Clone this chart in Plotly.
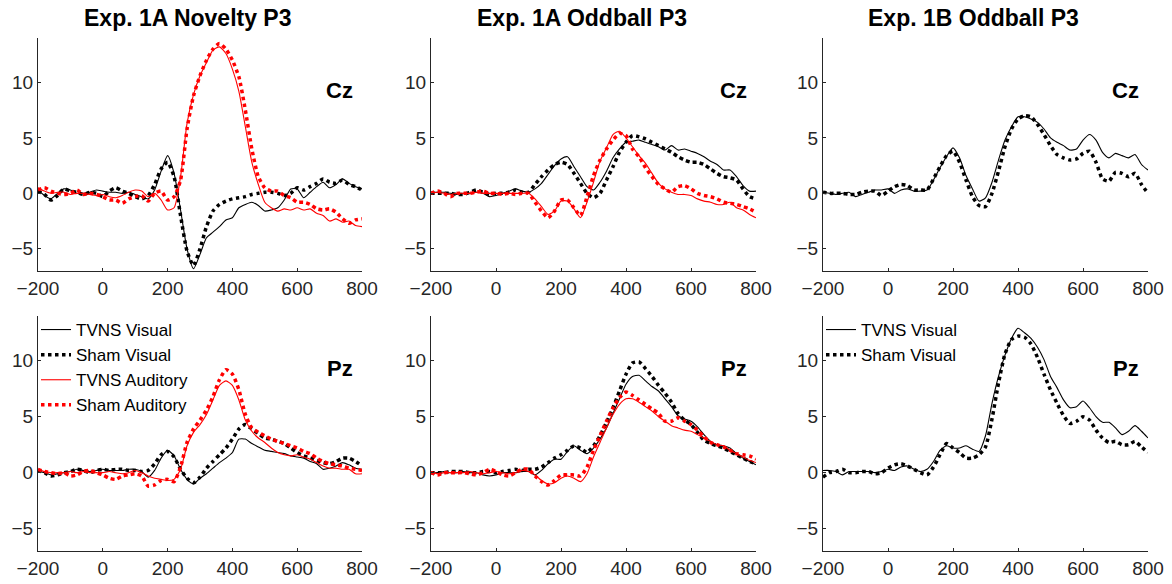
import plotly.graph_objects as go

# time axis (ms)
time_ms = [-200, -180, -160, -140, -120, -100, -80, -60, -40, -20,
           0, 20, 40, 60, 80, 100, 120, 140, 160, 180,
           200, 220, 240, 260, 280, 300, 320, 340, 360, 380,
           400, 420, 440, 460, 480, 500, 520, 540, 560, 580,
           600, 620, 640, 660, 680, 700, 720, 740, 760, 780,
           800]

# ---- Exp. 1A Novelty P3, Cz ----
nov_cz_tvns_vis = [0.3, -0.2, -0.5, 0.0, 0.4, 0.3, 0.0, 0.0, 0.1, 0.3,
                   0.2, 0.1, 0.1, 0.0, 0.1, -0.1, -0.3, -0.5, 0.3, 2.0,
                   3.4, 1.8, -1.5, -5.0, -6.8, -5.5, -4.0, -3.5, -3.0, -2.4,
                   -2.2, -1.3, -1.0, -0.8, -1.1, -1.6, -1.5, -1.3, -0.6, 0.4,
                   0.4, -0.4, 0.1, 0.6, 1.0, 0.5, 0.8, 1.3, 0.9, 0.6,
                   0.4]
nov_cz_sham_vis = [0.2, -0.1, -0.6, -0.2, 0.4, 0.2, 0.1, -0.1, 0.1, 0.0,
                   -0.3, 0.2, 0.5, 0.2, 0.0, -0.3, -0.5, -0.2, 0.8, 2.2,
                   2.8, 1.5, -2.0, -5.2, -6.5, -5.0, -3.0, -1.6, -1.0, -0.7,
                   -0.5, -0.4, -0.3, -0.1, 0.0, 0.1, 0.1, 0.0, -0.2, 0.0,
                   0.5, 0.3, 0.6, 0.9, 1.3, 1.0, 0.9, 1.2, 0.8, 0.6,
                   0.3]
nov_cz_tvns_aud = [0.5, 0.2, 0.0, 0.1, 0.1, -0.1, 0.0, 0.0, -0.1, -0.2,
                   -0.1, -0.3, -0.4, -0.2, 0.1, 0.3, 0.2, -0.3, 0.0, -0.6,
                   -1.5, -1.3, 1.5, 6.3, 8.9, 10.6, 11.8, 12.9, 13.2, 12.6,
                   11.2, 9.2, 6.0, 2.8, 0.8, -0.8, -1.3, -1.6, -1.4, -1.5,
                   -1.3, -1.5, -1.4, -1.8, -2.0, -2.5, -2.3, -2.6, -2.5, -2.9,
                   -3.0]
nov_cz_sham_aud = [0.3, 0.5, 0.2, 0.0, -0.1, 0.0, 0.3, -0.1, 0.0, -0.1,
                   -0.3, -0.6, -0.6, -0.9, -0.5, -0.3, -0.2, -0.7, 0.0, 0.2,
                   -0.6, -0.3, 1.2, 5.8, 8.8, 10.6, 12.0, 13.0, 13.5, 13.0,
                   12.0, 10.5, 7.5, 4.0, 1.5, 0.5, 0.2, 0.2, -0.2, -0.4,
                   -0.8, -0.8, -1.0, -1.4, -1.5, -1.4, -1.7, -2.3, -2.7, -2.4,
                   -2.3]

# ---- Exp. 1A Oddball P3, Cz ----
odd_cz_tvns_vis = [0.1, 0.1, 0.1, 0.0, -0.1, 0.0, 0.0, 0.1, 0.0, -0.3,
                   -0.2, 0.0, 0.2, 0.4, 0.2, 0.1, 0.4, 0.9, 1.7, 2.5,
                   3.1, 3.3, 2.4, 1.5, 0.6, 0.3, 1.0, 2.0, 3.2, 4.0,
                   4.6, 4.7, 4.8, 4.6, 4.4, 4.2, 3.9, 4.3, 3.9, 4.0,
                   3.8, 3.6, 3.3, 2.9, 2.6, 2.1, 2.1, 1.5, 0.7, 0.2,
                   0.2]
odd_cz_sham_vis = [0.0, 0.0, 0.0, 0.0, -0.1, -0.1, 0.1, 0.3, 0.1, -0.1,
                   0.0, 0.0, 0.1, 0.3, 0.1, 0.1, 0.8, 1.5, 2.1, 2.6,
                   2.8, 2.6, 1.8, 0.9, 0.0, -0.4, 0.0, 1.2, 2.4, 3.7,
                   4.6, 5.2, 5.1, 4.9, 4.6, 4.3, 4.0, 3.7, 3.3, 3.0,
                   2.8, 2.8, 2.6, 2.2, 1.8, 1.5, 1.4, 1.2, 0.4, -0.3,
                   -0.5]
odd_cz_tvns_aud = [0.0, 0.1, 0.0, -0.1, 0.0, 0.0, 0.0, 0.1, 0.0, 0.0,
                   0.0, 0.0, 0.0, 0.0, 0.0, 0.0, -0.5, -1.2, -1.9, -1.6,
                   -0.7, -0.7, -1.4, -2.2, -0.8, 1.0, 2.9, 4.1, 5.3, 5.6,
                   5.0, 4.2, 3.4, 2.7, 1.8, 0.9, 0.4, 0.1, -0.1, -0.1,
                   -0.2, -0.5, -0.7, -0.8, -1.0, -1.0, -0.8, -1.3, -1.5, -1.9,
                   -2.2]
odd_cz_sham_aud = [0.0, 0.2, 0.0, -0.3, 0.0, 0.0, 0.0, 0.1, 0.2, 0.0,
                   0.0, -0.1, 0.0, -0.1, 0.0, 0.0, -0.8, -1.6, -2.2, -1.6,
                   -0.6, -0.6, -1.3, -2.0, -0.3, 1.6, 3.0, 4.0, 4.8, 5.4,
                   5.2, 4.0, 3.3, 2.3, 1.5, 0.8, 0.4, 0.1, 0.6, 0.7,
                   0.4, 0.0, -0.2, -0.3, -0.5, -0.8, -0.9, -1.0, -1.2, -1.4,
                   -1.7]

# ---- Exp. 1B Oddball P3, Cz ----
b_cz_tvns_vis = [0.1, 0.0, -0.1, 0.0, 0.1, -0.3, -0.1, 0.1, 0.3, 0.3,
                 0.4, 0.0, 0.3, 0.4, 0.2, 0.2, 0.3, 1.2, 2.3, 3.3,
                 4.1, 3.2, 1.6, 0.4, -0.7, -0.4, 1.0, 3.0, 4.8, 6.0,
                 6.9, 6.9, 6.7, 6.4, 5.8, 5.0, 4.6, 4.3, 3.9, 4.0,
                 4.8, 5.3, 4.8, 3.7, 3.2, 3.6, 3.4, 3.2, 3.5, 2.6,
                 2.1]
b_cz_sham_vis = [0.1, 0.0, 0.0, 0.0, -0.1, -0.1, 0.1, 0.2, 0.2, -0.2,
                 0.2, 0.6, 0.8, 0.7, 0.3, 0.3, 0.3, 1.3, 2.4, 3.4,
                 3.8, 2.8, 1.2, -0.3, -1.1, -1.2, 0.0, 2.0, 4.2, 5.8,
                 6.7, 7.0, 6.9, 6.2, 5.3, 4.3, 3.5, 3.2, 3.0, 3.1,
                 3.6, 3.8, 2.8, 1.3, 1.1, 1.9, 1.8, 1.5, 1.8, 0.8,
                 0.0]

# ---- Exp. 1A Novelty P3, Pz ----
nov_pz_tvns_vis = [0.1, 0.0, -0.2, -0.1, 0.0, 0.1, 0.3, 0.2, 0.1, 0.2,
                   0.3, 0.2, 0.2, 0.2, 0.3, 0.3, 0.1, -0.4, 0.2, 1.3,
                   2.0, 1.5, 0.3, -0.6, -1.0, -0.5, -0.1, 0.4, 0.9, 1.3,
                   1.8, 3.0, 3.0, 2.6, 2.3, 2.0, 1.9, 1.8, 1.7, 1.5,
                   1.4, 1.3, 1.0, 0.8, 0.3, 0.4, 0.6, 0.9, 0.7, 0.4,
                   0.3]
nov_pz_sham_vis = [0.2, 0.0, -0.3, -0.2, 0.0, 0.1, 0.3, 0.2, 0.0, 0.2,
                   0.3, 0.2, 0.3, 0.3, 0.2, 0.2, 0.1, 0.2, 0.8, 1.6,
                   1.9, 1.4, 0.3, -0.5, -0.9, -0.4, 0.4, 1.0, 1.6, 2.2,
                   3.0, 3.9, 4.3, 3.9, 3.5, 3.1, 3.0, 2.8, 2.6, 2.2,
                   1.8, 1.5, 1.3, 1.1, 0.9, 0.8, 1.0, 1.3, 1.3, 1.0,
                   0.6]
nov_pz_tvns_aud = [0.3, 0.1, 0.0, 0.0, 0.0, 0.1, 0.0, 0.1, 0.0, 0.0,
                   0.0, 0.1, 0.0, -0.1, 0.0, 0.2, 0.0, -0.3, -0.5, -0.6,
                   -0.7, -0.6, 0.3, 2.4, 3.6, 4.3, 5.2, 6.5, 7.8, 8.2,
                   7.8, 6.5, 4.7, 3.7, 3.1, 2.7, 2.2, 1.8, 1.6, 1.5,
                   1.6, 1.4, 1.2, 0.9, 0.6, 0.4, 0.4, 0.3, 0.3, -0.1,
                   -0.1]
nov_pz_sham_aud = [0.3, 0.1, 0.0, -0.1, 0.0, -0.3, -0.2, 0.1, 0.2, 0.0,
                   -0.2, -0.5, -0.6, -0.3, -0.2, -0.1, -0.3, -1.2, -1.1, -0.7,
                   -0.6, -0.8, 0.5, 2.7, 3.9, 4.7, 5.6, 6.8, 8.3, 9.2,
                   8.8, 7.4, 5.2, 4.0, 3.6, 3.3, 3.0, 2.8, 2.6, 2.4,
                   2.2, 1.9, 1.7, 1.3, 1.0, 0.8, 0.7, 0.6, 0.4, 0.3,
                   0.2]

# ---- Exp. 1A Oddball P3, Pz ----
odd_pz_tvns_vis = [0.0, 0.0, 0.1, 0.0, 0.0, 0.1, 0.0, 0.0, -0.2, -0.3,
                   -0.2, 0.0, 0.0, 0.0, 0.1, 0.1, -0.2, 0.2, 0.8, 1.2,
                   1.2, 1.9, 2.4, 2.0, 1.7, 2.2, 3.0, 4.0, 5.3, 6.6,
                   7.9, 8.6, 8.7, 8.2, 7.7, 7.3, 6.6, 5.9, 5.1, 4.8,
                   4.6, 4.1, 3.4, 2.8, 2.5, 2.4, 2.2, 1.7, 1.3, 1.0,
                   0.7]
odd_pz_sham_vis = [0.0, 0.0, 0.0, 0.1, 0.1, 0.1, 0.0, 0.0, 0.1, 0.1,
                   0.0, 0.1, 0.2, 0.3, 0.2, 0.3, 0.3, 0.5, 0.9, 1.3,
                   1.6, 2.0, 2.4, 2.2, 1.8, 2.4, 3.3, 4.5, 5.8, 7.3,
                   8.8, 9.8, 9.9, 9.3, 8.6, 7.8, 7.1, 6.3, 5.3, 4.7,
                   4.3, 3.6, 2.9, 2.6, 2.4, 2.2, 1.9, 1.6, 1.3, 1.0,
                   0.8]
odd_pz_tvns_aud = [0.1, -0.1, 0.0, 0.0, 0.0, 0.0, 0.1, 0.0, -0.1, 0.0,
                   0.1, 0.0, -0.1, 0.0, 0.2, 0.1, -0.2, -0.7, -1.0, -0.9,
                   -0.5, -0.3, -0.5, -0.8, -0.1, 1.4, 2.7, 4.0, 5.2, 6.1,
                   6.6, 6.6, 6.3, 5.9, 5.5, 5.0, 4.6, 4.2, 4.0, 3.8,
                   3.7, 3.4, 3.1, 2.8, 2.5, 2.4, 2.0, 1.7, 1.4, 1.1,
                   0.9]
odd_pz_sham_aud = [0.0, -0.2, 0.0, 0.0, 0.0, 0.0, -0.1, -0.2, 0.0, 0.3,
                   0.1, -0.2, -0.3, 0.0, 0.3, 0.3, -0.3, -0.8, -1.1, -0.7,
                   -0.2, -0.2, -0.2, -0.3, 0.5, 2.0, 3.3, 4.6, 5.8, 6.7,
                   7.2, 6.9, 6.5, 6.1, 5.7, 5.3, 4.6, 4.6, 4.9, 4.6,
                   4.3, 3.8, 3.2, 2.7, 2.5, 2.3, 2.0, 1.7, 1.6, 1.5,
                   1.2]

# ---- Exp. 1B Oddball P3, Pz ----
b_pz_tvns_vis = [0.2, 0.2, 0.1, -0.2, 0.1, 0.1, 0.1, 0.1, 0.0, 0.1,
                 0.3, 0.2, 0.5, 0.6, 0.3, 0.1, 0.3, 1.0, 2.0, 2.4,
                 2.2, 2.2, 2.4, 2.1, 1.9, 3.3, 6.2, 8.6, 10.5, 12.0,
                 12.9, 12.5, 12.0, 11.2, 10.1, 8.6, 7.6, 6.5, 5.8, 5.9,
                 6.4, 5.8, 5.0, 4.5, 4.5, 4.0, 3.4, 3.7, 4.2, 3.7,
                 3.1]
b_pz_sham_vis = [-0.4, 0.0, 0.1, 0.3, 0.0, 0.0, 0.1, 0.1, -0.1, 0.0,
                 0.4, 0.7, 0.8, 0.6, 0.3, 0.0, -0.2, 0.5, 1.6, 2.6,
                 2.2, 1.8, 1.3, 1.3, 1.6, 2.3, 4.8, 8.0, 10.6, 11.9,
                 12.2, 12.1, 11.5, 10.3, 8.8, 7.4, 6.2, 5.1, 4.4, 4.6,
                 5.0, 4.7, 3.8, 3.1, 2.7, 2.8, 2.5, 2.5, 2.8, 2.3,
                 1.8]

titles = ["Exp. 1A Novelty P3", "Exp. 1A Oddball P3", "Exp. 1B Oddball P3"]
electrodes = ["Cz", "Pz"]
series_names = ["TVNS Visual", "Sham Visual", "TVNS Auditory", "Sham Auditory"]
x_ticks = [-200, 0, 200, 400, 600, 800]
y_ticks = [-5, 0, 5, 10]

W, H = 1172, 584
# panel pixel boxes (left, right) and (top, bottom)
col_px = [(38, 362), (431, 756), (823, 1148)]
row_px = [(38, 271), (316, 551)]

panels = [
    (0, 0, [(0, nov_cz_tvns_vis), (1, nov_cz_sham_vis), (2, nov_cz_tvns_aud), (3, nov_cz_sham_aud)]),
    (0, 1, [(0, odd_cz_tvns_vis), (1, odd_cz_sham_vis), (2, odd_cz_tvns_aud), (3, odd_cz_sham_aud)]),
    (0, 2, [(0, b_cz_tvns_vis), (1, b_cz_sham_vis)]),
    (1, 0, [(0, nov_pz_tvns_vis), (1, nov_pz_sham_vis), (2, nov_pz_tvns_aud), (3, nov_pz_sham_aud)]),
    (1, 1, [(0, odd_pz_tvns_vis), (1, odd_pz_sham_vis), (2, odd_pz_tvns_aud), (3, odd_pz_sham_aud)]),
    (1, 2, [(0, b_pz_tvns_vis), (1, b_pz_sham_vis)]),
]

styles = [
    dict(color="#000000", width=1.1, dash="solid"),
    dict(color="#000000", width=3.5, dash="dot"),
    dict(color="#ff0000", width=1.1, dash="solid"),
    dict(color="#ff0000", width=3.5, dash="dot"),
]

AX_COL = "#262626"
FONT = "Liberation Sans, Arial, sans-serif"

fig = go.Figure()
layout = dict(
    width=W, height=H,
    margin=dict(l=0, r=0, t=0, b=0, pad=0, autoexpand=False),
    paper_bgcolor="white", plot_bgcolor="white",
    showlegend=True,
    annotations=[],
)

for k, (r, c, series) in enumerate(panels):
    idx = k + 1
    xa = "xaxis" if idx == 1 else f"xaxis{idx}"
    ya = "yaxis" if idx == 1 else f"yaxis{idx}"
    xref = "x" if idx == 1 else f"x{idx}"
    yref = "y" if idx == 1 else f"y{idx}"
    l, rr = col_px[c]
    t, b = row_px[r]
    layout[xa] = dict(
        domain=[l / W, rr / W], anchor=yref, range=[-200, 800], automargin=False,
        tickvals=x_ticks, ticks="inside", ticklen=3, tickwidth=1, tickcolor=AX_COL,
        showline=True, linecolor=AX_COL, linewidth=1, showgrid=False, zeroline=False,
        tickfont=dict(family=FONT, size=19, color=AX_COL),
    )
    layout[ya] = dict(
        domain=[1 - b / H, 1 - t / H], anchor=xref, range=[-7, 14], automargin=False,
        tickvals=y_ticks, ticks="inside", ticklen=3, tickwidth=1, tickcolor=AX_COL,
        showline=True, linecolor=AX_COL, linewidth=1, showgrid=False, zeroline=False,
        tickfont=dict(family=FONT, size=19, color=AX_COL),
    )
    legend_name = None
    if (r, c) == (1, 0):
        legend_name = "legend"
    elif (r, c) == (1, 2):
        legend_name = "legend2"
    for si, vals in series:
        st = styles[si]
        fig.add_trace(go.Scatter(
            x=time_ms, y=vals, mode="lines",
            name=series_names[si],
            line=dict(color=st["color"], width=st["width"], dash=st["dash"],
                      shape="spline", smoothing=0.6),
            xaxis=xref, yaxis=yref,
            showlegend=legend_name is not None,
            legend=legend_name if legend_name else "legend",
        ))
    # electrode label
    layout["annotations"].append(dict(
        text=f"<b>{electrodes[r]}</b>", xref="paper", yref="paper",
        x=(rr - 7) / W, y=1 - (t + 52) / H, xanchor="right", yanchor="middle",
        showarrow=False, font=dict(family=FONT, size=22, color="#000000"),
    ))
    if r == 0:
        layout["annotations"].append(dict(
            text=f"<b>{titles[c]}</b>", xref="paper", yref="paper",
            x=((l + rr) / 2 - 12) / W, y=1 - 18 / H, xanchor="center", yanchor="middle",
            showarrow=False, font=dict(family=FONT, size=23, color="#000000"),
        ))

legend_common = dict(
    bgcolor="rgba(0,0,0,0)", borderwidth=0,
    font=dict(family=FONT, size=17, color="#000000"),
    xanchor="left", yanchor="top", tracegroupgap=0,
    itemwidth=30,
)
layout["legend"] = dict(x=36 / W, y=1 - 312 / H, **legend_common)
layout["legend2"] = dict(x=821 / W, y=1 - 312 / H, **legend_common)

fig.update_layout(**layout)
fig.write_html("out.html", config={"displayModeBar": False},
               post_script="document.body.style.margin='0px';")
